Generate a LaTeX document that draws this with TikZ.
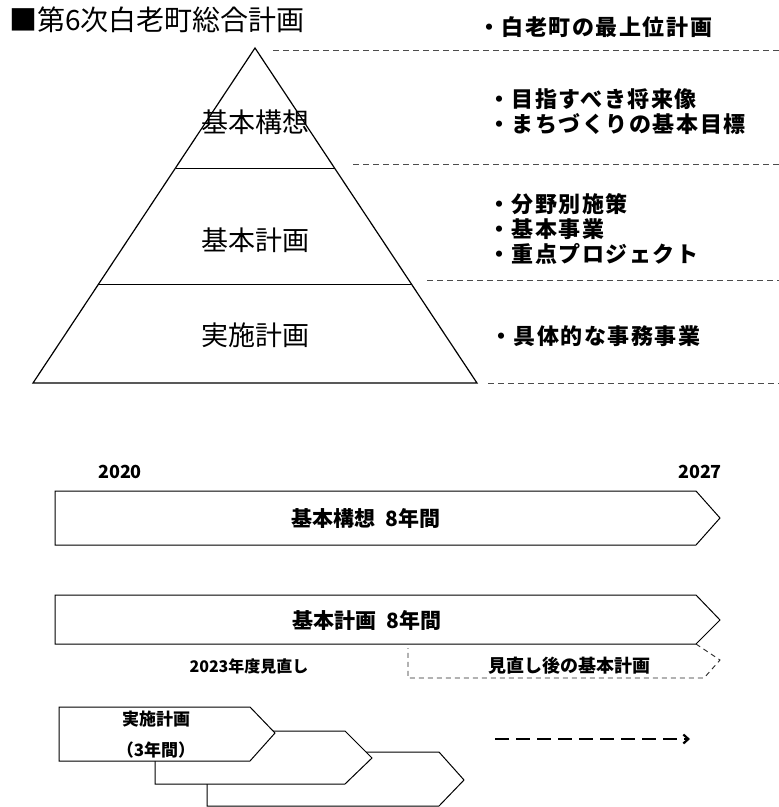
\documentclass[tikz,border=0pt]{standalone}
\usepackage{fontspec}
\setmainfont{Noto Sans CJK JP}
\usetikzlibrary{arrows.meta}
\tikzset{
	levelname/.style={font=\fontsize{27}{30}\selectfont,inner sep=0pt},
	note/.style={font=\bfseries\fontsize{22}{25}\selectfont\addfontfeature{LetterSpace=7},anchor=west,inner sep=0pt},
	bartxt/.style={font=\bfseries\fontsize{21}{24}\selectfont,inner sep=0pt},
	smalltxt/.style={font=\bfseries\fontsize{17}{20}\selectfont,inner sep=0pt},
	guide/.style={draw=black!70,line width=1pt,dash pattern=on 6pt off 4pt},
	stage/.style={draw,fill=white,line width=1pt}
}
\begin{document}
\begin{tikzpicture}[x=1pt,y=-1pt]
		\useasboundingbox (0,0) rectangle (779,807);
		\node[anchor=west,inner sep=0pt,font=\fontsize{28}{32}\selectfont](title) at (9,20) {■第6次白老町総合計画};
		\coordinate (apex) at (255,48);
		\coordinate (bl) at (33,383);
		\coordinate (br) at (477,383);
		\coordinate (l1) at (175.5,168);
		\coordinate (r1) at (334.5,168);
		\coordinate (l2) at (98.6,284);
		\coordinate (r2) at (411.4,284);
		\draw[line width=1.2pt] (apex)--(br)--(bl)--cycle;
		\draw[line width=1pt] (l1)--(r1);
		\draw[line width=1pt] (l2)--(r2);
		\node[levelname](kousou) at (255,122) {基本構想};
		\node[levelname](keikaku) at (255,240) {基本計画};
		\node[levelname](jisshi) at (255,335) {実施計画};
		\coordinate (g1a) at (273,50);
		\coordinate (g1b) at (779,50);
		\coordinate (g2a) at (353,164);
		\coordinate (g2b) at (779,164);
		\coordinate (g3a) at (427,280);
		\coordinate (g3b) at (779,280);
		\coordinate (g4a) at (488,383);
		\coordinate (g4b) at (779,383);
		\draw[guide] (g1a)--(g1b);
		\draw[guide] (g2a)--(g2b);
		\draw[guide] (g3a)--(g3b);
		\draw[guide] (g4a)--(g4b);
		\node[note](n1) at (478,27) {・白老町の最上位計画};
		\node[note](n2) at (488,99) {・目指すべき将来像};
		\node[note](n3) at (488,124) {・まちづくりの基本目標};
		\node[note](n4) at (488,204) {・分野別施策};
		\node[note](n5) at (488,229) {・基本事業};
		\node[note](n6) at (488,254) {・重点プロジェクト};
		\node[note](n7) at (490,336) {・具体的な事務事業};
		\node[bartxt,font=\bfseries\fontsize{18}{21}\selectfont](y1) at (120,472) {2020};
		\node[bartxt,font=\bfseries\fontsize{18}{21}\selectfont](y2) at (700,472) {2027};
		\draw[stage] (55,491)--(696,491)--(720,518)--(696,545)--(55,545)--cycle;
		\node[bartxt](bar1) at (366,518) {基本構想\hspace{0.5em}8年間};
		\draw[guide,draw=black!85,line width=0.9pt,dash pattern=on 5pt off 4pt] (696,644)--(720,660)--(704,678)--(408,678)--(408,648);
		\draw[stage] (55,595)--(696,595)--(720,620)--(696,644)--(55,644)--cycle;
		\node[bartxt](bar2) at (367,620) {基本計画\hspace{0.5em}8年間};
		\node[smalltxt,font=\bfseries\fontsize{16}{19}\selectfont](rev) at (249,666) {2023年度見直し};
		\node[smalltxt,font=\bfseries\fontsize{18}{21}\selectfont](after) at (569,666) {見直し後の基本計画};
		\draw[stage] (207,752)--(439,752)--(464,780)--(439,806)--(207,806)--cycle;
		\draw[stage] (155,731)--(345,731)--(372,758)--(345,784)--(155,784)--cycle;
		\draw[stage] (59,707)--(250,707)--(275,733)--(250,761)--(59,761)--cycle;
		\node[smalltxt](s1) at (156,719) {実施計画};
		\node[smalltxt](s2) at (156,750) {（3年間）};
		\coordinate (go) at (495,739);
		\coordinate (next) at (690,739);
		\draw[-{Straight Barb[length=5pt,width=9pt]},line width=2.2pt,dash pattern=on 14pt off 7pt] (go)--(next);
	\end{tikzpicture}
\end{document}
